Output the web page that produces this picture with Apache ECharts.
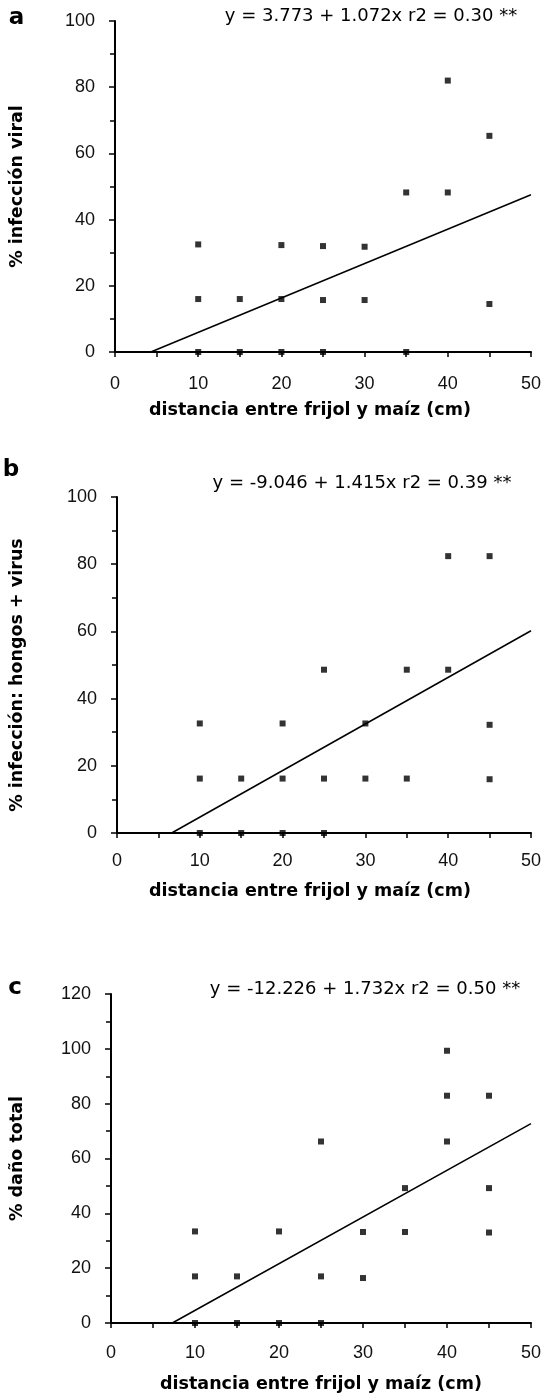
<!DOCTYPE html>
<html>
<head>
<meta charset="utf-8">
<script src="https://cdn.jsdelivr.net/npm/echarts@6/dist/echarts.min.js"></script>
<style>
html,body{margin:0;padding:0;background:#fff;}
#chart{width:544px;height:1400px;}
</style>
</head>
<body>
<div id="chart"></div>
<script>
// ---- data ----
const panelLetters = ['a', 'b', 'c'];
const equations = [
  'y = 3.773 + 1.072x r2 = 0.30 **',
  'y = -9.046 + 1.415x r2 = 0.39 **',
  'y = -12.226 + 1.732x r2 = 0.50 **'
];
const yTitles = ['% infección viral', '% infección: hongos + virus', '% daño total'];
const xTitle = 'distancia entre frijol y maíz (cm)';
const xTicks = [0, 10, 20, 30, 40, 50];
const yMaxes = [100, 100, 120];

const ptsA = [[10,32.5],[10,16],[10,0],[15,16],[15,0],[20,32.3],[20,16],[20,0],[25,32],[25,15.7],[25,0],
              [30,31.8],[30,15.7],[35,48.2],[35,0],[40,82],[40,48.2],[45,65.3],[45,14.5]];
const ptsB = [[10,32.6],[10,16.2],[10,0],[15,16.2],[15,0],[20,32.6],[20,16.2],[20,0],[25,48.6],[25,16.2],[25,0],
              [30,32.6],[30,16.2],[35,48.6],[35,16.2],[40,82.4],[40,48.6],[45,82.4],[45,32.2],[45,16]];
const ptsC = [[10,33.4],[10,17],[10,0],[15,17],[15,0],[20,33.4],[20,0],[25,66.2],[25,17],[25,0],
              [30,33.2],[30,16.4],[35,49.2],[35,33.2],[40,99.3],[40,82.9],[40,66.2],[45,82.9],[45,49.2],[45,33]];
const fitA = [[4.3,0],[50,47.5]];
const fitB = [[6.6,0],[50,60.2]];
const fitC = [[7.3,0],[50,72.7]];

const points = [ptsA, ptsB, ptsC];
const fits = [fitA, fitB, fitC];

// ---- layout ----
const grids = [
  {left:113, top:21, width:423, height:331},
  {left:114, top:497, width:421, height:336},
  {left:110, top:994, width:421, height:329}
];
const xLabelMargin = [23, 19, 21];
const xNameGap = [49, 49, 52];
const xNamePad = [[0,26,0,0],[0,28,0,0],[0,0,0,0]];
const yNameGap = [89, 91, 85];
const yNamePad = [[0,0,0,0],[0,20,0,0],[0,0,0,0]];
const letterPos = [[16.5,18],[11,470],[15,988]];
const eqPos = [[371,16.5],[362,483.7],[365,989.7]];

const tickFont = {fontFamily:'Liberation Sans, Arial, sans-serif', fontSize:18, color:'#111'};
const titleFont = {fontFamily:'DejaVu Sans, sans-serif', fontWeight:'bold', fontSize:17.5, color:'#000'};

const xAxes = [], yAxes = [], series = [], graphics = [];
for (let i = 0; i < 3; i++) {
  xAxes.push({
    gridIndex:i, type:'value', min:xTicks[0], max:xTicks[xTicks.length-1], interval:10,
    axisLine:{show:true, onZero:false, lineStyle:{color:'#000', width:2}},
    axisTick:{show:true, inside:false, length:5, lineStyle:{color:'#000', width:1.5}},
    minorTick:{show:true, splitNumber:2, length:5, lineStyle:{color:'#000', width:1.5}},
    splitLine:{show:false},
    axisLabel:Object.assign({margin:xLabelMargin[i]}, tickFont),
    name:xTitle, nameLocation:'middle', nameGap:xNameGap[i],
    nameTextStyle:Object.assign({padding:xNamePad[i]}, titleFont)
  });
  yAxes.push({
    gridIndex:i, type:'value', min:0, max:yMaxes[i], interval:20,
    axisLine:{show:true, lineStyle:{color:'#000', width:2}},
    axisTick:{show:true, inside:false, length:6, lineStyle:{color:'#000', width:1.5}},
    minorTick:{show:true, splitNumber:2, length:5, lineStyle:{color:'#000', width:1.5}},
    splitLine:{show:false},
    axisLabel:Object.assign({margin:20}, tickFont),
    name:yTitles[i], nameLocation:'middle', nameRotate:90, nameGap:yNameGap[i],
    nameTextStyle:Object.assign({padding:yNamePad[i]}, titleFont)
  });
  series.push({
    type:'line', xAxisIndex:i, yAxisIndex:i, data:fits[i], symbol:'none',
    lineStyle:{color:'#000', width:1.5}, silent:true, z:3
  });
  series.push({
    type:'scatter', xAxisIndex:i, yAxisIndex:i, data:points[i], symbol:'rect', symbolSize:6,
    itemStyle:{color:'#000'}, clip:false, silent:true, z:4
  });
  graphics.push({
    type:'text', x:letterPos[i][0], y:letterPos[i][1],
    style:{text:panelLetters[i], font:'bold 23px "DejaVu Sans", sans-serif', fill:'#000', align:'center', verticalAlign:'middle'}
  });
  graphics.push({
    type:'text', x:eqPos[i][0], y:eqPos[i][1],
    style:{text:equations[i], font:'18px "DejaVu Sans", sans-serif', fill:'#000', align:'center', verticalAlign:'middle'}
  });
}

const chart = echarts.init(document.getElementById('chart'), null, {renderer:'canvas'});
chart.setOption({
  animation:false,
  backgroundColor:'#fff',
  grid:grids,
  xAxis:xAxes,
  yAxis:yAxes,
  series:series,
  graphic:graphics
});
</script>
</body>
</html>
